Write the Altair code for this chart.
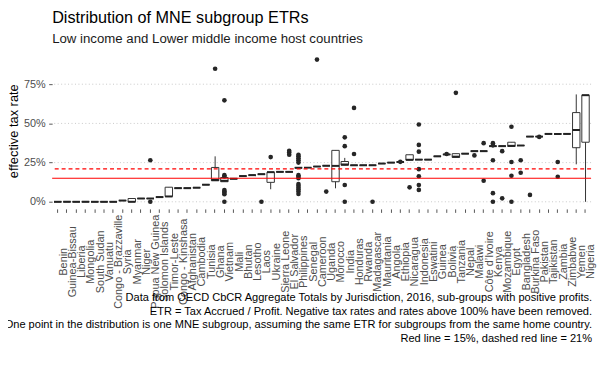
import altair as alt
import pandas as pd

countries = ["Benin", "Guinea-Bissau", "Liberia", "Mongolia", "South Sudan", "Vanuatu",
             "Congo - Brazzaville", "Syria", "Myanmar", "Niger", "Papua New Guinea",
             "Solomon Islands", "Timor-Leste", "Congo - Kinshasa", "Afghanistan", "Cambodia",
             "Tunisia", "Ghana", "Vietnam", "Mali", "Bhutan", "Lesotho", "Laos", "Ukraine",
             "Sierra Leone", "El Salvador", "Philippines", "Senegal", "Cameroon", "Uganda",
             "Morocco", "India", "Honduras", "Rwanda", "Madagascar", "Mauritania", "Angola",
             "Ethiopia", "Nicaragua", "Indonesia", "Eswatini", "Guinea", "Bolivia", "Tanzania",
             "Nepal", "Malawi", "Côte d\u2019Ivoire", "Kenya", "Mozambique", "Egypt", "Bangladesh",
             "Burkina Faso", "Pakistan", "Tajikistan", "Zambia", "Zimbabwe", "Yemen", "Nigeria"]

whisker_lo = [0, 0, 0, 0, 0, 0, 0, 0.008, 0, 0.021, 0.021, 0.030, 0.034, 0.087, 0.087, 0.090,
              0.109, 0.134, 0.128, 0.147, 0.164, 0.170, 0.176, 0.080, 0.191, 0.191, 0.217, 0.218,
              0.225, 0.230, 0.086, 0.233, 0.233, 0.233, 0.233, 0.244, 0.250, 0.254, 0.266, 0.269,
              0.269, 0.290, 0.302, 0.283, 0.307, 0.323, 0.323, 0.355, 0.355, 0.353, 0.359, 0.416,
              0.416, 0.433, 0.433, 0.433, 0.239, 0.0]
box_q1 = [0, 0, 0, 0, 0, 0, 0, 0.008, 0, 0.021, 0.021, 0.030, 0.034, 0.087, 0.087, 0.090,
          0.109, 0.134, 0.128, 0.147, 0.164, 0.170, 0.176, 0.124, 0.191, 0.191, 0.217, 0.218,
          0.225, 0.230, 0.128, 0.233, 0.233, 0.233, 0.233, 0.244, 0.250, 0.254, 0.266, 0.269,
          0.269, 0.290, 0.302, 0.283, 0.307, 0.323, 0.323, 0.355, 0.355, 0.353, 0.359, 0.416,
          0.416, 0.433, 0.433, 0.433, 0.345, 0.380]
box_median = [0, 0, 0, 0, 0, 0, 0, 0.008, 0, 0.021, 0.021, 0.030, 0.034, 0.087, 0.087, 0.090,
              0.109, 0.139, 0.134, 0.147, 0.164, 0.170, 0.176, 0.189, 0.191, 0.191, 0.217, 0.218,
              0.225, 0.230, 0.229, 0.238, 0.233, 0.233, 0.233, 0.244, 0.250, 0.254, 0.268, 0.269,
              0.269, 0.290, 0.302, 0.288, 0.307, 0.323, 0.323, 0.355, 0.355, 0.357, 0.359, 0.416,
              0.416, 0.433, 0.433, 0.433, 0.458, 0.680]
box_q3 = [0, 0, 0, 0, 0, 0, 0, 0.008, 0.021, 0.021, 0.021, 0.030, 0.093, 0.087, 0.087, 0.090,
          0.109, 0.219, 0.155, 0.147, 0.164, 0.170, 0.176, 0.189, 0.191, 0.191, 0.217, 0.218,
          0.225, 0.230, 0.328, 0.257, 0.233, 0.233, 0.233, 0.244, 0.250, 0.254, 0.300, 0.269,
          0.269, 0.290, 0.302, 0.307, 0.307, 0.323, 0.323, 0.355, 0.355, 0.380, 0.359, 0.416,
          0.416, 0.433, 0.433, 0.433, 0.569, 0.680]
whisker_hi = [0, 0, 0, 0, 0, 0, 0, 0.008, 0.021, 0.021, 0.021, 0.030, 0.093, 0.087, 0.087, 0.090,
              0.109, 0.290, 0.155, 0.147, 0.164, 0.170, 0.176, 0.189, 0.191, 0.191, 0.217, 0.218,
              0.225, 0.230, 0.328, 0.280, 0.233, 0.233, 0.233, 0.244, 0.250, 0.254, 0.300, 0.269,
              0.269, 0.290, 0.302, 0.307, 0.307, 0.323, 0.323, 0.355, 0.355, 0.380, 0.359, 0.416,
              0.416, 0.433, 0.433, 0.433, 0.685, 0.680]

outlier_country = (["Papua New Guinea"] * 2 + ["Ghana"] + ["Vietnam"] * 8 + ["Laos"] + ["Ukraine"]
                   + ["El Salvador"] * 3 + ["Philippines"] * 14 + ["Cameroon"] + ["Uganda"]
                   + ["India"] * 4 + ["Honduras"] * 2 + ["Madagascar"] + ["Ethiopia"] + ["Nicaragua"]
                   + ["Indonesia"] * 7 + ["Bolivia"] + ["Tanzania"] + ["Malawi"]
                   + ["Côte d\u2019Ivoire"] * 2 + ["Kenya"] * 5 + ["Mozambique"] * 2 + ["Egypt"] * 4
                   + ["Bangladesh"] * 2 + ["Burkina Faso"] + ["Pakistan"] + ["Zambia"] * 2)
outlier_value = ([0.265, 0.0] + [0.849] + [0.647, 0.17, 0.162, 0.075, 0.066, 0.057, 0.048, 0.0]
                 + [0.0] + [0.285] + [0.325, 0.315, 0.300]
                 + [0.300, 0.290, 0.278, 0.265, 0.250, 0.170, 0.160, 0.150, 0.113, 0.102, 0.090,
                    0.078, 0.065, 0.050]
                 + [0.907] + [0.065] + [0.411, 0.355, 0.107, 0.0] + [0.599, 0.305] + [0.0]
                 + [0.255] + [0.092] + [0.493, 0.363, 0.320, 0.208, 0.163, 0.107, 0.076]
                 + [0.305] + [0.695] + [0.296] + [0.374, 0.134] + [0.374, 0.360, 0.265, 0.055, 0.0]
                 + [0.323, 0.022] + [0.479, 0.254, 0.166, 0.0] + [0.265, 0.185] + [0.044]
                 + [0.414] + [0.254, 0.160])

ref_solid = [0.15]
ref_dashed = [0.21]

y_ticks = [0, 0.25, 0.5, 0.75]

title_text = "Distribution of MNE subgroup ETRs"
subtitle_text = "Low income and Lower middle income host countries"
caption_lines = [
    "Data from OECD CbCR Aggregate Totals by Jurisdiction, 2016, sub-groups with positive profits.",
    "ETR = Tax Accrued / Profit. Negative tax rates and rates above 100% have been removed.",
    "One point in the distribution is one MNE subgroup, assuming the same ETR for subgroups from the same home country.",
    "Red line = 15%, dashed red line = 21%",
]

FONT = "Liberation Sans"
W, H = 545.6, 158.3

box_df = pd.DataFrame({"country": countries, "lo": whisker_lo, "q1": box_q1,
                       "med": box_median, "q3": box_q3, "hi": whisker_hi})
pts_df = pd.DataFrame({"country": outlier_country, "etr": outlier_value})
solid_df = pd.DataFrame({"y": ref_solid})
dashed_df = pd.DataFrame({"y": ref_dashed})
grid_df = pd.DataFrame({"y": y_ticks})

xscale = alt.Scale(domain=countries, paddingInner=0.2, paddingOuter=0.2)
yscale = alt.Scale(domain=[-0.0454, 0.952], nice=False, zero=False)

x_axis = alt.Axis(
    title=caption_lines, titleFont=FONT, titleFontSize=11.2, titleFontWeight="normal",
    titleColor="#000000", titleAlign="right", titleBaseline="alphabetic",
    titleX=W + 0.5, titleY=92.5, titleLineHeight=14, titleAngle=0,
    labelAngle=270, labelAlign="center", labelBaseline="top", labelPadding=49.5,
    labelFont=FONT, labelFontSize=11, labelColor="#4d4d4d", labelOverlap=False,
    labelLimit=0, domain=False, ticks=True, tickSize=3.5, tickColor="#555555",
    grid=False, bandPosition=0.5,
)
y_axis = alt.Axis(
    title="effective tax rate", titleFont=FONT, titleFontSize=13, titleFontWeight="normal",
    titleColor="#000000", titleAngle=270, titleAlign="center", titleBaseline="middle",
    titleX=-38.7, titleY=H / 2,
    values=y_ticks, format=".0%", labelFont=FONT, labelFontSize=11, labelColor="#4d4d4d",
    labelPadding=3.5, domain=False, tickSize=3.5, tickColor="#555555",
    grid=False,
)

x_enc = alt.X("country:N", sort=countries, scale=xscale, axis=x_axis)


def y_enc(field):
    return alt.Y(field, scale=yscale, axis=y_axis)


grid = alt.Chart(grid_df).mark_rule(color="#c8c8c8", strokeWidth=1, strokeDash=[1, 2.5]).encode(
    y=y_enc("y:Q"))

base = alt.Chart(box_df)
whiskers = base.mark_rule(color="#333333", strokeWidth=1).encode(
    x=x_enc, y=y_enc("lo:Q"), y2="hi:Q")
boxes = base.mark_bar(fill="#ffffff", stroke="#333333", strokeWidth=1).encode(
    x=x_enc, y=y_enc("q1:Q"), y2="q3:Q")
medians = base.mark_tick(color="#222222", thickness=2, size=7.5, opacity=1).encode(
    x=x_enc, y=y_enc("med:Q"))
points = alt.Chart(pts_df).mark_circle(size=22, color="#262626", opacity=1).encode(
    x=x_enc, y=y_enc("etr:Q"))
solid = alt.Chart(solid_df).mark_rule(color="#ff0000", strokeWidth=1.1).encode(
    y=y_enc("y:Q"))
dashed = alt.Chart(dashed_df).mark_rule(color="#ff0000", strokeWidth=1.1, strokeDash=[4, 3]).encode(
    y=y_enc("y:Q"))

chart = alt.layer(grid, whiskers, boxes, medians, points, solid, dashed).properties(
    width=W, height=H,
    background="#ffffff",
    autosize=alt.AutoSizeParams(type="none"),
    padding={"left": 44.7, "top": 42.9, "right": 6, "bottom": 155},
    title=alt.TitleParams(
        text=title_text, subtitle=subtitle_text, anchor="start", frame="group",
        font=FONT, fontSize=16.4, fontWeight="normal", color="#000000",
        subtitleFont=FONT, subtitleFontSize=13.4, subtitleColor="#1a1a1a",
        subtitlePadding=6, offset=7,
    ),
).configure_view(stroke="transparent", strokeWidth=0)

chart.save("out.html", embed_options={"renderer": "svg", "actions": False})
